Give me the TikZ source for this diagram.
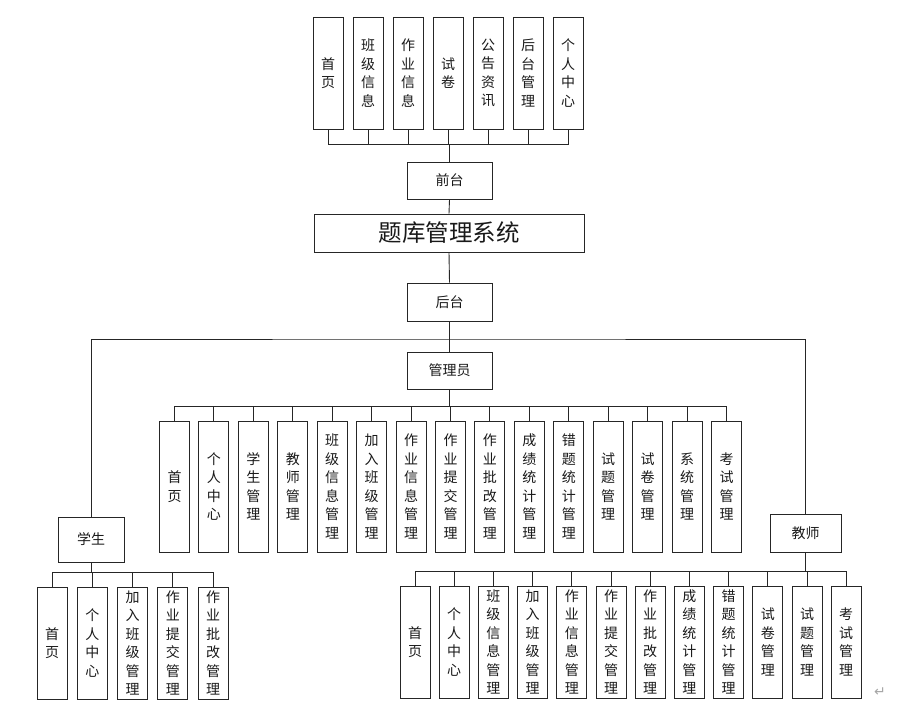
\documentclass[tikz,border=0pt]{standalone}
\usepackage{fontspec}
\newfontfamily\cjk{Noto Sans CJK SC}
\newfontfamily\dejavu{DejaVu Sans}
\begin{document}
\begin{tikzpicture}[x=1pt,y=-1pt,
  box/.style={draw=black!85,line width=0.9pt,rectangle,inner sep=0pt,align=center,
    font=\cjk\fontsize{14}{18.5}\selectfont,text=black!90},
  vbox/.style={box,minimum width=30pt,minimum height=#1},
  hbox/.style={box},
  link/.style={draw=black!85,line width=0.9pt}]
\useasboundingbox (0,0) rectangle (905,707);
% top row
\foreach \t [count=\i from 0] in {首\\页,班\\级\\信\\息,作\\业\\信\\息,试\\卷,公\\告\\资\\讯,后\\台\\管\\理,个\\人\\中\\心}
  \node[vbox=112pt] (t\i) at ({328+40*\i},73) {\t};
\node[hbox,minimum width=85pt,minimum height=37pt] (front) at (449.5,180.5) {前台};
\node[box,minimum width=270pt,minimum height=38pt,font=\cjk\fontsize{23.5}{25}\selectfont] (sys) at (449,233) {题库管理系统};
\node[hbox,minimum width=85pt,minimum height=38pt] (back) at (449.5,302) {后台};
\node[hbox,minimum width=85pt,minimum height=37pt] (admin) at (449.5,370.5) {管理员};
\node[hbox,minimum width=66pt,minimum height=45pt] (stu) at (91,539.5) {学生};
\node[hbox,minimum width=71pt,minimum height=38pt] (tea) at (805.5,533) {教师};
\coordinate (busT) at (449.5,144);
\foreach \i in {0,...,6} \draw[link] (t\i.south) |- (busT);
\draw[link] (busT) -- (front.north);
\draw[link] (front.south) -- (sys.north);
\draw[link] (sys.south) -- (back.north);
\coordinate (busB) at (449.5,339);
\draw[link] (back.south) -- (admin.north);
\draw[link] (stu.north) |- (busB) -| (tea.north);
% admin children
\foreach \t [count=\i from 0] in {首\\页,个\\人\\中\\心,学\\生\\管\\理,教\\师\\管\\理,班\\级\\信\\息\\管\\理,加\\入\\班\\级\\管\\理,作\\业\\信\\息\\管\\理,作\\业\\提\\交\\管\\理,作\\业\\批\\改\\管\\理,成\\绩\\统\\计\\管\\理,错\\题\\统\\计\\管\\理,试\\题\\管\\理,试\\卷\\管\\理,系\\统\\管\\理,考\\试\\管\\理}
  \node[vbox=131pt] (a\i) at ({174.5+39.43*\i},486.5) {\t};
\coordinate (busA) at (449.5,406);
\draw[link] (admin.south) -- (busA);
\foreach \i in {0,...,14} \draw[link] (a\i.north) |- (busA);
% student children
\foreach \t [count=\i from 0] in {首\\页,个\\人\\中\\心,加\\入\\班\\级\\管\\理,作\\业\\提\\交\\管\\理,作\\业\\批\\改\\管\\理}
  \node[vbox=112pt] (s\i) at ({52+40.25*\i},643) {\t};
\coordinate (busS) at (91,572);
\draw[link] (stu.south) -- (busS);
\foreach \i in {0,...,4} \draw[link] (s\i.north) |- (busS);
% teacher children
\foreach \t [count=\i from 0] in {首\\页,个\\人\\中\\心,班\\级\\信\\息\\管\\理,加\\入\\班\\级\\管\\理,作\\业\\信\\息\\管\\理,作\\业\\提\\交\\管\\理,作\\业\\批\\改\\管\\理,成\\绩\\统\\计\\管\\理,错\\题\\统\\计\\管\\理,试\\卷\\管\\理,试\\题\\管\\理,考\\试\\管\\理}
  \node[vbox=112pt] (e\i) at ({415+39.2*\i},642) {\t};
\coordinate (busE) at (805.5,571);
\draw[link] (tea.south) -- (busE);
\foreach \i in {0,...,11} \draw[link] (e\i.north) |- (busE);
\node[text=gray!70,font=\dejavu\fontsize{14}{14}\selectfont,inner sep=0pt] (ret) at (880,692) {↵};
\end{tikzpicture}
\end{document}
